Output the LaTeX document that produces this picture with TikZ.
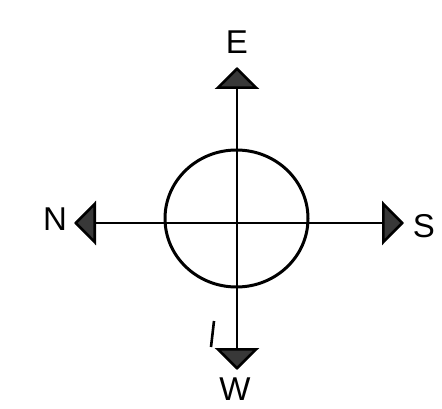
\documentclass[tikz,border=0pt]{standalone}
\usepackage{fontspec}
\setmainfont{Liberation Sans}
\usetikzlibrary{arrows.meta,shapes.geometric}
\definecolor{headgray}{HTML}{383838}
\tikzset{
  axis/.style={line width=2.6pt, black, -{Triangle[length=22pt,width=44pt,fill=headgray]}, line join=round},
  lbl/.style={font=\fontsize{33}{33}\selectfont, inner sep=0pt},
  ring/.style={draw, ellipse, line width=3pt, inner sep=0pt, minimum width=143pt, minimum height=137pt}
}
\begin{document}
\begin{tikzpicture}[x=1pt,y=-1pt]
\useasboundingbox (0,0) rectangle (442,409);
\coordinate (O) at (237,223);
\coordinate (te) at (237,67);
\coordinate (tn) at (74,223);
\coordinate (ts) at (404,223);
\coordinate (tw) at (237,370);
\node[ring] (circ) at (236.5,218.5) {};
\draw[axis] (O) -- (te);
\draw[axis] (O) -- (tn);
\draw[axis] (O) -- (ts);
\draw[axis] (O) -- (tw);
\node[lbl] (E) at (237,42) {E};
\node[lbl] (N) at (55,219) {N};
\node[lbl] (S) at (424,226) {S};
\node[lbl] (W) at (235,389) {W};
\coordinate (m1) at (214,321);
\coordinate (m2) at (211,347);
\draw[line width=2.6pt] (m1) -- (m2);
\end{tikzpicture}
\end{document}
